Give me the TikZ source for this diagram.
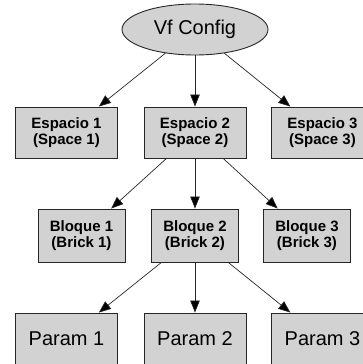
\documentclass[tikz,border=0pt]{standalone}
\usepackage{fontspec}
\setmainfont{Liberation Sans}
\usetikzlibrary{arrows.meta,shapes.geometric}

\begin{document}
\begin{tikzpicture}[->,>={Triangle[length=12pt,width=9.5pt]},line width=0.9pt,node distance=103pt,
  every node/.style={draw=black!85,fill=gray!35,inner sep=0pt},
  root/.style={ellipse,minimum width=146pt,minimum height=51pt,font=\fontsize{20}{24}\selectfont},
  space/.style={rectangle,minimum width=102pt,minimum height=51pt,align=center,font=\fontsize{15}{16.5}\selectfont\bfseries},
  brick/.style={space,minimum width=87pt,minimum height=53pt},
  param/.style={rectangle,minimum width=102pt,minimum height=51pt,font=\fontsize{20}{24}\selectfont},
  link/.style={line width=0.7pt,draw=black!85}]
  \path[-,use as bounding box,clip] (-195pt,29.5pt) rectangle (168pt,-334.5pt);

  \node [root] (vf) {Vf Config};
  \node [space,below of=vf] (esp2) {Espacio 2\\(Space 2)};
  \node [space,left of=esp2,xshift=-25.5pt] (esp1) {Espacio 1\\(Space 1)};
  \node [space,right of=esp2,xshift=24.5pt] (esp3) {Espacio 3\\(Space 3)};
  \node [brick,below of=esp2] (blq2) {Bloque 2\\(Brick 2)};
  \node [brick,left of=blq2,xshift=-10.5pt] (blq1) {Bloque 1\\(Brick 1)};
  \node [brick,right of=blq2,xshift=9pt] (blq3) {Bloque 3\\(Brick 3)};
  \node [param,below of=blq2] (par2) {Param 2};
  \node [param,left of=par2,xshift=-25.5pt] (par1) {Param 1};
  \node [param,right of=par2,xshift=24.5pt] (par3) {Param 3};

  \path[->,link] (vf) edge (esp1);
  \path[->,link] (vf) edge (esp2);
  \path[->,link] (vf) edge (esp3);
  \path[->,link] (esp2) edge (blq1);
  \path[->,link] (esp2) edge (blq2);
  \path[->,link] (esp2) edge (blq3);
  \path[->,link] (blq2) edge (par1);
  \path[->,link] (blq2) edge (par2);
  \path[->,link] (blq2) edge (par3);

\end{tikzpicture}
\end{document}
